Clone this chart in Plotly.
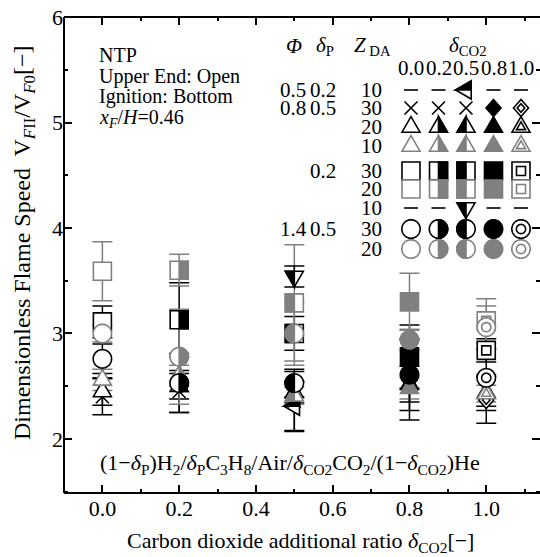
import math
import plotly.graph_objects as go

# ---------------- data ----------------
delta_co2 = [0.0, 0.2, 0.5, 0.8, 1.0]
x_tick_vals = [0.0, 0.2, 0.4, 0.6, 0.8, 1.0]
x_tick_text = ["0.0", "0.2", "0.4", "0.6", "0.8", "1.0"]
y_tick_vals = [2, 3, 4, 5, 6]

# Φ=0.5, δP=0.2, Z_DA=10
vf_phi05_dp02_z10 = [None, None, 2.31, None, None]
er_phi05_dp02_z10 = [0, 0, 0.24, 0, 0]
# Φ=0.8, δP=0.5, Z_DA=30
vf_phi08_dp05_z30 = [2.40, 2.45, 2.36, 2.56, 2.37]
er_phi08_dp05_z30 = [0.17, 0.20, 0.28, 0.38, 0.22]
# Φ=0.8, δP=0.5, Z_DA=20
vf_phi08_dp05_z20 = [2.45, 2.50, 2.44, 2.52, 2.44]
er_phi08_dp05_z20 = [0.13, 0.12, 0.10, 0.17, 0.17]
# Φ=0.8, δP=0.5, Z_DA=10
vf_phi08_dp05_z10 = [2.56, 2.60, 2.41, 2.48, 2.43]
er_phi08_dp05_z10 = [0.10, 0.10, 0.08, 0.10, 0.08]
# Φ=0.8, δP=0.2, Z_DA=30
vf_phi08_dp02_z30 = [3.11, 3.13, 3.00, 2.78, 2.84]
er_phi08_dp02_z30 = [0.15, 0.35, 0.16, 0.30, 0.11]
# Φ=0.8, δP=0.2, Z_DA=20
vf_phi08_dp02_z20 = [3.59, 3.60, 3.29, 3.30, 3.12]
er_phi08_dp02_z20 = [0.28, 0.15, 0.55, 0.27, 0.21]
# Φ=1.4, δP=0.5, Z_DA=10
vf_phi14_dp05_z10 = [None, None, 3.54, None, None]
er_phi14_dp05_z10 = [0, 0, 0.10, 0, 0]
# Φ=1.4, δP=0.5, Z_DA=30
vf_phi14_dp05_z30 = [2.76, 2.53, 2.53, 2.61, 2.58]
er_phi14_dp05_z30 = [0.14, 0.28, 0.13, 0.34, 0.27]
# Φ=1.4, δP=0.5, Z_DA=20
vf_phi14_dp05_z20 = [3.00, 2.78, 3.00, 2.94, 3.06]
er_phi14_dp05_z20 = [0.08, 0.45, 0.30, 0.10, 0.20]

# legend table text
legend_phi = ["0.5", "0.8", "", "", "", "", "", "1.4", ""]
legend_dp = ["0.2", "0.5", "", "", "0.2", "", "", "0.5", ""]
legend_z = ["10", "30", "20", "10", "30", "20", "10", "30", "20"]
legend_cols = ["0.0", "0.2", "0.5", "0.8", "1.0"]

# ---------------- styles ----------------
BLACK = "#000000"
GRAY = "#808080"
FONT = "Liberation Serif, Times New Roman, serif"
FILLS = ["open", "right", "left", "full", "double"]

series = [
    (vf_phi05_dp02_z10, er_phi05_dp02_z10, BLACK, ["none", "none", "tri_left", "none", "none"], ["", "", "top", "", ""]),
    (vf_phi08_dp05_z30, er_phi08_dp05_z30, BLACK, ["x", "x", "x", "diamond", "diamond"], ["x", "x", "x", "full", "double"]),
    (vf_phi08_dp05_z20, er_phi08_dp05_z20, BLACK, ["tri_up"] * 5, FILLS),
    (vf_phi08_dp05_z10, er_phi08_dp05_z10, GRAY, ["tri_up"] * 5, FILLS),
    (vf_phi08_dp02_z30, er_phi08_dp02_z30, BLACK, ["square"] * 5, FILLS),
    (vf_phi08_dp02_z20, er_phi08_dp02_z20, GRAY, ["square"] * 5, FILLS),
    (vf_phi14_dp05_z10, er_phi14_dp05_z10, BLACK, ["none", "none", "tri_down", "none", "none"], ["", "", "left", "", ""]),
    (vf_phi14_dp05_z30, er_phi14_dp05_z30, BLACK, ["circle"] * 5, FILLS),
    (vf_phi14_dp05_z20, er_phi14_dp05_z20, GRAY, ["circle"] * 5, FILLS),
]

W, H = 540, 557
ML, MR, MT, MB = 64, 0, 17, 64
PW = W - ML - MR
PH = H - MT - MB


def px_x(px):
    return (px - ML) / PW


def px_y(py):
    return (H - MB - py) / PH


# marker geometry (svg coords, y down)
TS = 18.0
TH = TS * math.sqrt(3) / 2


def geom(shape):
    if shape == "square":
        s = 9
        return [(-s, -s), (s, -s), (s, s), (-s, s)]
    if shape == "circle":
        r = 9.2
        return [(r * math.cos(2 * math.pi * k / 48), r * math.sin(2 * math.pi * k / 48)) for k in range(48)]
    if shape == "tri_up":
        return [(0, -2 * TH / 3), (TS / 2, TH / 3), (-TS / 2, TH / 3)]
    if shape == "tri_down":
        return [(0, 2 * TH / 3), (TS / 2, -TH / 3), (-TS / 2, -TH / 3)]
    if shape == "tri_left":
        return [(-2 * TH / 3, 0), (TH / 3, -TS / 2), (TH / 3, TS / 2)]
    if shape == "diamond":
        return [(0, -8.5), (7.5, 0), (0, 8.5), (-7.5, 0)]
    return []


def clip(pts, a, b):
    out = []
    n = len(pts)
    for i in range(n):
        p = pts[i]
        q = pts[(i + 1) % n]
        fp = a * p[0] + b * p[1]
        fq = a * q[0] + b * q[1]
        if fp >= 0:
            out.append(p)
        if (fp >= 0) != (fq >= 0):
            t = fp / (fp - fq)
            out.append((p[0] + t * (q[0] - p[0]), p[1] + t * (q[1] - p[1])))
    return out


def path_of(pts, scale=1.0):
    s = "M" + " L".join("%.2f,%.2f" % (x * scale, -y * scale) for x, y in pts)
    return s + " Z"


def marker_shapes(shape, fill, color, xref, yref, xa, ya):
    base = dict(type="path", xref=xref, yref=yref, xsizemode="pixel", ysizemode="pixel",
                xanchor=xa, yanchor=ya, layer="above")
    lw = 1.6
    out = []
    if shape == "none":
        out.append(dict(base, path="M-7,0 L7,0", line=dict(color=BLACK, width=1.6)))
        return out
    if shape == "x":
        out.append(dict(base, path="M-6.5,-6.5 L6.5,6.5 M-6.5,6.5 L6.5,-6.5",
                        line=dict(color=color, width=1.6)))
        return out
    pts = geom(shape)
    if fill == "full":
        out.append(dict(base, path=path_of(pts), fillcolor=color, line=dict(color=color, width=lw)))
        return out
    out.append(dict(base, path=path_of(pts), fillcolor="white", line=dict(color=color, width=lw)))
    if fill == "double":
        out.append(dict(base, path=path_of(pts, 0.5), fillcolor="white", line=dict(color=color, width=lw)))
    elif fill in ("right", "left", "top"):
        a, b = {"right": (1, 0), "left": (-1, 0), "top": (0, -1)}[fill]
        half = clip(pts, a, b)
        out.append(dict(base, path=path_of(half), fillcolor=color, line=dict(color=color, width=lw)))
    return out


fig = go.Figure()
shapes = []

# frame (left, bottom, top; right edge falls outside the picture)
for x0, y0, x1, y1 in [(0, 0, 0, 1), (0, 0, 1, 0), (0, 1, 1, 1)]:
    shapes.append(dict(type="line", xref="paper", yref="paper", x0=x0, y0=y0, x1=x1, y1=y1,
                       line=dict(color=BLACK, width=2), layer="above"))

# error bars (traces) and markers (shapes anchored on data axes)
for vals, errs, color, shp, fl in series:
    fig.add_trace(go.Scatter(
        x=delta_co2, y=vals, mode="markers",
        marker=dict(size=2, color="rgba(0,0,0,0)"),
        error_y=dict(type="data", array=errs, visible=True, color=color, thickness=1.5, width=10),
        showlegend=False, hoverinfo="skip", cliponaxis=False))
for vals, errs, color, shp, fl in series:
    for xv, yv, s, f in zip(delta_co2, vals, shp, fl):
        if yv is None or s == "none":
            continue
        shapes += marker_shapes(s, f, color, "x", "y", xv, yv)

# legend table
col_px = [411, 438.5, 466, 493.5, 521]
row_py = [90, 108, 127, 146, 171, 189, 208, 229, 249]
for r, (vals, errs, color, shp, fl) in enumerate(series):
    for c in range(5):
        shapes += marker_shapes(shp[c], fl[c], color, "paper", "paper", px_x(col_px[c]), px_y(row_py[r]))

ann = []


def text(px, py, s, size=21, xanchor="center", angle=0):
    ann.append(dict(x=px_x(px), y=px_y(py), xref="paper", yref="paper", text=s, showarrow=False,
                    xanchor=xanchor, yanchor="middle", textangle=angle,
                    font=dict(family=FONT, size=size, color=BLACK)))


text(294, 46, "<i>Φ</i>")
text(325, 46, "<i>δ</i><sub>P</sub>")
text(372, 46, "<i>Z</i><sub> DA</sub>")
text(468, 46, "<i>δ</i><sub>CO2</sub>")
for c, lab in enumerate(legend_cols):
    text(col_px[c], 68, lab)
for r in range(9):
    if legend_phi[r]:
        text(293, row_py[r], legend_phi[r])
    if legend_dp[r]:
        text(323, row_py[r], legend_dp[r])
    text(371, row_py[r], legend_z[r])

# annotations
text(97, 55, "NTP", size=20, xanchor="left")
text(97, 76, "Upper End: Open", size=20, xanchor="left")
text(97, 97, "Ignition: Bottom", size=20, xanchor="left")
text(97, 118, "<i>x</i><sub><i>F</i></sub>/<i>H</i>=0.46", size=20, xanchor="left")
text(290, 464, "(1−<i>δ</i><sub>P</sub>)H<sub>2</sub>/<i>δ</i><sub>P</sub>C<sub>3</sub>H<sub>8</sub>/Air/"
               "<i>δ</i><sub>CO2</sub>CO<sub>2</sub>/(1−<i>δ</i><sub>CO2</sub>)He", size=22)
text(300, 542, "Carbon dioxide additional ratio <i>δ</i><sub>CO2</sub>[−]", size=22)
text(24, 243, "Dimensionless Flame Speed  V<sub><i>F</i>II</sub>/V<sub><i>F</i>0</sub>[−]", size=24, angle=-90)

axis_common = dict(showgrid=False, zeroline=False, showline=False,
                   mirror="ticks", ticks="inside", ticklen=8, tickwidth=1.5, tickcolor=BLACK,
                   tickfont=dict(family=FONT, size=22, color=BLACK))

fig.update_layout(
    width=W, height=H, autosize=False,
    margin=dict(l=ML, r=MR, t=MT, b=MB),
    paper_bgcolor="white", plot_bgcolor="white",
    xaxis=dict(axis_common, range=[-0.1, 1.14], tickmode="array", tickvals=x_tick_vals,
               ticktext=x_tick_text,
               minor=dict(dtick=0.1, tick0=0, ticks="inside", ticklen=4, tickwidth=1.5, tickcolor=BLACK)),
    yaxis=dict(axis_common, range=[1.488, 6.0], tickmode="array", tickvals=y_tick_vals,
               minor=dict(dtick=0.5, tick0=0, ticks="inside", ticklen=4, tickwidth=1.5, tickcolor=BLACK)),
    shapes=shapes, annotations=ann, showlegend=False,
)

fig.write_html("out.html")
